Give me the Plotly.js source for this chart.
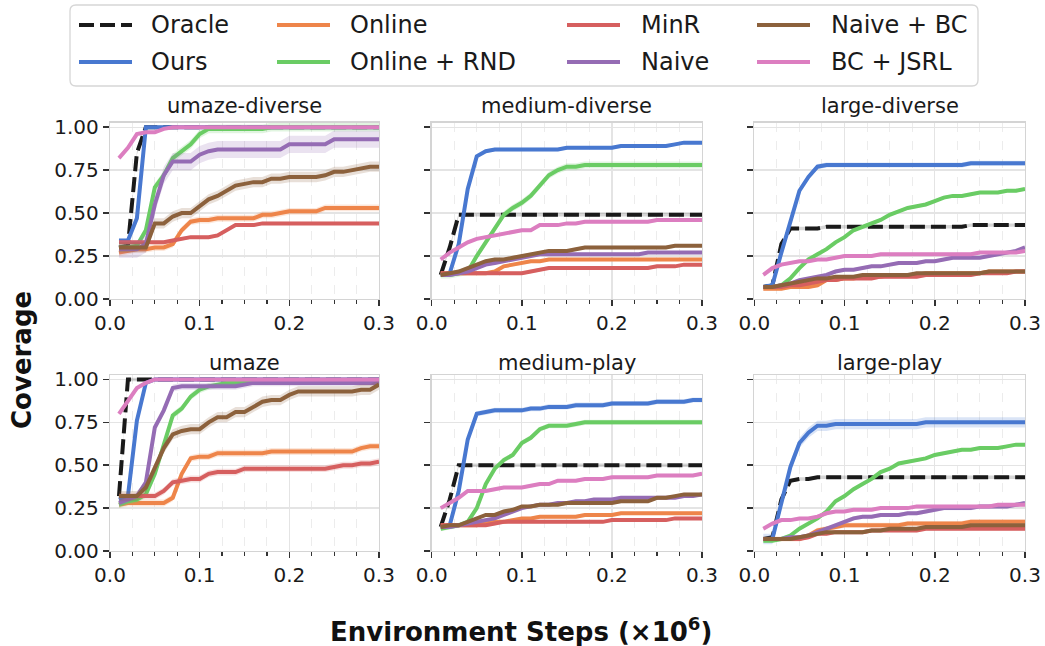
<!DOCTYPE html>
<html>
<head>
<meta charset="utf-8">
<script src="https://cdn.plot.ly/plotly-3.0.1.min.js"></script>
<style>html,body{margin:0;padding:0;background:#fff;}#chart{width:1045px;height:646px;}</style>
</head>
<body>
<div id="chart"></div>
<script>
// ---------------- DATA ----------------
const STEPS = [0.01,0.02,0.03,0.04,0.05,0.06,0.07,0.08,0.09,0.10,0.11,0.12,0.13,0.14,0.15,0.16,0.17,0.18,0.19,0.20,0.21,0.22,0.23,0.24,0.25,0.26,0.27,0.28,0.29,0.30];
const METHODS = ["Oracle","Ours","Online","Online + RND","MinR","Naive","Naive + BC","BC + JSRL"];
const COLORS = ["#1a1a1a","#4878d0","#ee854a","#6acc64","#d65f5f","#956cb4","#8c613c","#dc7ec0"];
const PANEL_TITLES = ["umaze-diverse","medium-diverse","large-diverse","umaze","medium-play","large-play"];
const X_TICKS = [0,0.1,0.2,0.3];
const X_TICK_LABELS = ["0.0","0.1","0.2","0.3"];
const Y_TICKS = [0,0.25,0.5,0.75,1];
const Y_TICK_LABELS = ["0.00","0.25","0.50","0.75","1.00"];

// umaze-diverse
const UD_ORACLE = [0.30,0.31,0.85,1,1,1,1,1,1,1,1,1,1,1,1,1,1,1,1,1,1,1,1,1,1,1,1,1,1,1];
const UD_OURS   = [0.34,0.34,0.47,1,1,1,1,1,1,1,1,1,1,1,1,1,1,1,1,1,1,1,1,1,1,1,1,1,1,1];
const UD_ONLINE = [0.27,0.28,0.29,0.29,0.30,0.30,0.32,0.40,0.45,0.46,0.46,0.47,0.47,0.47,0.47,0.47,0.49,0.49,0.50,0.51,0.51,0.51,0.51,0.53,0.53,0.53,0.53,0.53,0.53,0.53];
const UD_RND    = [0.30,0.30,0.31,0.40,0.65,0.72,0.82,0.86,0.90,0.96,0.99,0.99,0.99,0.99,0.99,0.99,0.99,1,1,1,1,1,1,1,1,1,1,1,1,1];
const UD_MINR   = [0.33,0.33,0.33,0.33,0.33,0.33,0.34,0.35,0.36,0.36,0.36,0.37,0.40,0.43,0.43,0.43,0.44,0.44,0.44,0.44,0.44,0.44,0.44,0.44,0.44,0.44,0.44,0.44,0.44,0.44];
const UD_NAIVE  = [0.29,0.29,0.29,0.32,0.55,0.72,0.80,0.80,0.80,0.84,0.86,0.87,0.87,0.87,0.87,0.87,0.87,0.87,0.87,0.90,0.90,0.90,0.90,0.90,0.93,0.93,0.93,0.93,0.93,0.93];
const UD_NAIVEBC= [0.30,0.30,0.30,0.30,0.44,0.44,0.48,0.50,0.50,0.54,0.58,0.60,0.63,0.66,0.67,0.68,0.68,0.70,0.70,0.71,0.71,0.71,0.71,0.72,0.74,0.74,0.75,0.76,0.77,0.77];
const UD_JSRL   = [0.82,0.88,0.96,0.97,0.97,0.99,1,1,1,1,1,1,1,1,1,1,1,1,1,1,1,1,1,1,1,1,1,1,1,1];
const UD_STD    = [0.01,0.01,0.02,0.025,0.01,0.05,0.03,0.01];

// medium-diverse
const MD_ORACLE = [0.14,0.30,0.49,0.49,0.49,0.49,0.49,0.49,0.49,0.49,0.49,0.49,0.49,0.49,0.49,0.49,0.49,0.49,0.49,0.49,0.49,0.49,0.49,0.49,0.49,0.49,0.49,0.49,0.49,0.49];
const MD_OURS   = [0.14,0.15,0.32,0.64,0.83,0.86,0.87,0.87,0.87,0.87,0.87,0.87,0.87,0.87,0.88,0.88,0.88,0.88,0.88,0.88,0.89,0.89,0.89,0.89,0.89,0.89,0.90,0.91,0.91,0.91];
const MD_ONLINE = [0.15,0.15,0.15,0.15,0.15,0.15,0.16,0.19,0.20,0.21,0.22,0.22,0.23,0.23,0.23,0.23,0.23,0.23,0.23,0.23,0.23,0.23,0.23,0.23,0.23,0.23,0.23,0.23,0.23,0.23];
const MD_RND    = [0.14,0.14,0.15,0.16,0.25,0.33,0.41,0.49,0.53,0.56,0.60,0.66,0.72,0.75,0.77,0.77,0.78,0.78,0.78,0.78,0.78,0.78,0.78,0.78,0.78,0.78,0.78,0.78,0.78,0.78];
const MD_MINR   = [0.15,0.15,0.15,0.15,0.15,0.15,0.15,0.15,0.15,0.15,0.16,0.17,0.18,0.18,0.18,0.18,0.18,0.18,0.18,0.18,0.18,0.18,0.18,0.18,0.19,0.19,0.19,0.20,0.20,0.20];
const MD_NAIVE  = [0.14,0.14,0.15,0.16,0.18,0.20,0.21,0.22,0.23,0.24,0.25,0.26,0.26,0.26,0.26,0.26,0.26,0.26,0.26,0.26,0.26,0.26,0.26,0.27,0.27,0.27,0.27,0.27,0.27,0.27];
const MD_NAIVEBC= [0.14,0.15,0.16,0.18,0.20,0.22,0.23,0.23,0.24,0.25,0.26,0.27,0.28,0.28,0.28,0.29,0.30,0.30,0.30,0.30,0.30,0.30,0.30,0.30,0.30,0.30,0.31,0.31,0.31,0.31];
const MD_JSRL   = [0.23,0.27,0.30,0.33,0.35,0.36,0.37,0.38,0.39,0.40,0.40,0.43,0.43,0.43,0.44,0.44,0.45,0.45,0.45,0.45,0.45,0.45,0.45,0.45,0.46,0.46,0.46,0.46,0.46,0.46];
const MD_STD    = [0.01,0.01,0.01,0.02,0.01,0.01,0.01,0.01];

// large-diverse
const LD_ORACLE = [0.07,0.08,0.32,0.41,0.41,0.41,0.41,0.42,0.42,0.42,0.42,0.42,0.42,0.42,0.42,0.42,0.42,0.42,0.42,0.42,0.42,0.42,0.42,0.43,0.43,0.43,0.43,0.43,0.43,0.43];
const LD_OURS   = [0.07,0.08,0.27,0.44,0.63,0.71,0.77,0.78,0.78,0.78,0.78,0.78,0.78,0.78,0.78,0.78,0.78,0.78,0.78,0.78,0.78,0.78,0.78,0.79,0.79,0.79,0.79,0.79,0.79,0.79];
const LD_ONLINE = [0.06,0.06,0.06,0.07,0.07,0.07,0.08,0.11,0.11,0.12,0.12,0.13,0.13,0.13,0.14,0.14,0.14,0.14,0.15,0.15,0.15,0.15,0.15,0.15,0.15,0.16,0.16,0.16,0.16,0.16];
const LD_RND    = [0.07,0.07,0.08,0.12,0.18,0.23,0.26,0.29,0.33,0.36,0.40,0.42,0.44,0.46,0.49,0.51,0.53,0.54,0.55,0.57,0.59,0.60,0.60,0.61,0.62,0.62,0.62,0.63,0.63,0.64];
const LD_MINR   = [0.07,0.07,0.07,0.08,0.08,0.09,0.10,0.11,0.11,0.12,0.12,0.12,0.12,0.13,0.13,0.13,0.13,0.13,0.14,0.14,0.14,0.14,0.14,0.14,0.15,0.15,0.15,0.15,0.16,0.16];
const LD_NAIVE  = [0.07,0.07,0.08,0.09,0.11,0.12,0.13,0.14,0.16,0.17,0.17,0.18,0.19,0.19,0.20,0.21,0.21,0.21,0.22,0.22,0.23,0.24,0.24,0.24,0.24,0.25,0.26,0.27,0.28,0.30];
const LD_NAIVEBC= [0.07,0.07,0.08,0.09,0.10,0.11,0.12,0.12,0.13,0.13,0.13,0.14,0.14,0.14,0.14,0.14,0.14,0.15,0.15,0.15,0.15,0.15,0.15,0.15,0.15,0.16,0.16,0.16,0.16,0.16];
const LD_JSRL   = [0.14,0.18,0.20,0.21,0.22,0.22,0.23,0.23,0.24,0.25,0.25,0.25,0.25,0.26,0.26,0.26,0.26,0.26,0.26,0.26,0.26,0.26,0.26,0.26,0.27,0.27,0.27,0.27,0.27,0.28];
const LD_STD    = [0.01,0.015,0.01,0.01,0.01,0.01,0.01,0.01];

// umaze
const U_ORACLE  = [0.32,1,1,1,1,1,1,1,1,1,1,1,1,1,1,1,1,1,1,1,1,1,1,1,1,1,1,1,1,1];
const U_OURS    = [0.30,0.32,0.76,0.98,1,1,1,1,1,1,1,1,1,1,1,1,1,1,1,1,1,1,1,1,1,1,1,1,1,1];
const U_ONLINE  = [0.27,0.28,0.28,0.28,0.28,0.28,0.31,0.45,0.54,0.55,0.55,0.57,0.57,0.57,0.57,0.57,0.57,0.58,0.58,0.58,0.58,0.58,0.58,0.58,0.58,0.58,0.58,0.60,0.61,0.61];
const U_RND     = [0.27,0.29,0.30,0.33,0.45,0.62,0.79,0.83,0.90,0.94,0.96,0.97,0.98,0.98,0.99,0.99,0.99,0.99,0.99,0.99,0.99,0.99,0.99,0.99,0.99,0.99,0.99,0.99,0.99,0.99];
const U_MINR    = [0.32,0.32,0.32,0.32,0.32,0.35,0.40,0.41,0.42,0.42,0.45,0.46,0.46,0.46,0.48,0.48,0.48,0.48,0.48,0.48,0.48,0.48,0.48,0.48,0.49,0.50,0.50,0.51,0.51,0.52];
const U_NAIVE   = [0.28,0.30,0.32,0.40,0.72,0.82,0.95,0.96,0.96,0.96,0.96,0.96,0.96,0.96,0.97,0.98,0.98,0.98,0.98,0.98,0.98,0.98,0.98,0.98,0.98,0.98,0.98,0.98,0.98,0.98];
const U_NAIVEBC = [0.32,0.32,0.32,0.37,0.48,0.60,0.68,0.70,0.71,0.71,0.75,0.78,0.78,0.81,0.81,0.84,0.87,0.88,0.88,0.91,0.93,0.93,0.93,0.93,0.93,0.93,0.93,0.94,0.94,0.97];
const U_JSRL    = [0.80,0.88,0.95,0.98,1,1,1,1,1,1,1,1,1,1,1,1,1,1,1,1,1,1,1,1,1,1,1,1,1,1];
const U_STD     = [0.01,0.01,0.02,0.02,0.02,0.02,0.03,0.01];

// medium-play
const MP_ORACLE = [0.14,0.30,0.50,0.50,0.50,0.50,0.50,0.50,0.50,0.50,0.50,0.50,0.50,0.50,0.50,0.50,0.50,0.50,0.50,0.50,0.50,0.50,0.50,0.50,0.50,0.50,0.50,0.50,0.50,0.50];
const MP_OURS   = [0.14,0.15,0.35,0.65,0.80,0.81,0.82,0.82,0.82,0.82,0.83,0.83,0.84,0.84,0.84,0.85,0.85,0.85,0.85,0.86,0.86,0.86,0.86,0.86,0.87,0.87,0.87,0.87,0.88,0.88];
const MP_ONLINE = [0.15,0.15,0.15,0.15,0.15,0.16,0.17,0.17,0.18,0.19,0.19,0.20,0.20,0.20,0.20,0.20,0.21,0.21,0.21,0.21,0.22,0.22,0.22,0.22,0.22,0.22,0.22,0.22,0.22,0.22];
const MP_RND    = [0.13,0.14,0.15,0.17,0.25,0.39,0.48,0.53,0.56,0.63,0.66,0.71,0.73,0.73,0.73,0.74,0.75,0.75,0.75,0.75,0.75,0.75,0.75,0.75,0.75,0.75,0.75,0.75,0.75,0.75];
const MP_MINR   = [0.15,0.15,0.15,0.15,0.15,0.15,0.16,0.17,0.17,0.17,0.17,0.17,0.17,0.17,0.17,0.17,0.17,0.17,0.17,0.18,0.18,0.18,0.18,0.18,0.18,0.18,0.19,0.19,0.19,0.19];
const MP_NAIVE  = [0.14,0.14,0.15,0.16,0.17,0.18,0.19,0.21,0.23,0.25,0.26,0.27,0.27,0.28,0.28,0.29,0.29,0.30,0.30,0.30,0.31,0.31,0.31,0.31,0.31,0.31,0.31,0.32,0.32,0.33];
const MP_NAIVEBC= [0.14,0.15,0.15,0.17,0.19,0.21,0.21,0.23,0.24,0.26,0.26,0.27,0.27,0.27,0.28,0.28,0.28,0.28,0.28,0.28,0.29,0.29,0.29,0.29,0.31,0.31,0.32,0.33,0.33,0.33];
const MP_JSRL   = [0.25,0.28,0.31,0.35,0.35,0.35,0.36,0.37,0.37,0.37,0.38,0.39,0.39,0.41,0.41,0.41,0.42,0.42,0.42,0.43,0.43,0.43,0.43,0.43,0.44,0.44,0.44,0.44,0.44,0.45];
const MP_STD    = [0.01,0.015,0.01,0.015,0.01,0.01,0.01,0.01];

// large-play
const LP_ORACLE = [0.07,0.08,0.30,0.41,0.42,0.42,0.43,0.43,0.43,0.43,0.43,0.43,0.43,0.43,0.43,0.43,0.43,0.43,0.43,0.43,0.43,0.43,0.43,0.43,0.43,0.43,0.43,0.43,0.43,0.43];
const LP_OURS   = [0.07,0.07,0.28,0.49,0.63,0.69,0.73,0.73,0.74,0.74,0.74,0.74,0.74,0.74,0.74,0.74,0.74,0.74,0.75,0.75,0.75,0.75,0.75,0.75,0.75,0.75,0.75,0.75,0.75,0.75];
const LP_ONLINE = [0.07,0.07,0.07,0.07,0.07,0.09,0.12,0.13,0.14,0.15,0.15,0.15,0.15,0.15,0.15,0.15,0.16,0.16,0.16,0.16,0.16,0.16,0.16,0.17,0.17,0.17,0.17,0.17,0.17,0.17];
const LP_RND    = [0.06,0.06,0.07,0.09,0.13,0.16,0.19,0.23,0.29,0.32,0.36,0.39,0.42,0.46,0.48,0.51,0.52,0.53,0.54,0.56,0.57,0.58,0.59,0.59,0.60,0.60,0.60,0.61,0.62,0.62];
const LP_MINR   = [0.07,0.07,0.07,0.07,0.07,0.08,0.10,0.10,0.11,0.11,0.11,0.11,0.12,0.12,0.12,0.12,0.12,0.12,0.13,0.13,0.13,0.13,0.13,0.13,0.13,0.13,0.13,0.13,0.13,0.13];
const LP_NAIVE  = [0.07,0.07,0.07,0.08,0.08,0.09,0.11,0.13,0.15,0.17,0.19,0.20,0.20,0.21,0.21,0.21,0.22,0.22,0.23,0.24,0.25,0.25,0.25,0.25,0.26,0.26,0.26,0.26,0.27,0.28];
const LP_NAIVEBC= [0.07,0.07,0.07,0.07,0.08,0.09,0.10,0.11,0.11,0.11,0.11,0.11,0.12,0.12,0.13,0.13,0.13,0.13,0.14,0.14,0.14,0.14,0.14,0.15,0.15,0.15,0.15,0.15,0.15,0.15];
const LP_JSRL   = [0.13,0.16,0.18,0.18,0.19,0.19,0.20,0.22,0.23,0.23,0.24,0.24,0.24,0.25,0.25,0.25,0.25,0.26,0.26,0.26,0.26,0.26,0.26,0.26,0.26,0.26,0.27,0.27,0.27,0.27];
const LP_STD    = [0.01,0.03,0.015,0.01,0.01,0.012,0.01,0.01];

const PANELS = [
  {series:[UD_ORACLE,UD_OURS,UD_ONLINE,UD_RND,UD_MINR,UD_NAIVE,UD_NAIVEBC,UD_JSRL], std:UD_STD},
  {series:[MD_ORACLE,MD_OURS,MD_ONLINE,MD_RND,MD_MINR,MD_NAIVE,MD_NAIVEBC,MD_JSRL], std:MD_STD},
  {series:[LD_ORACLE,LD_OURS,LD_ONLINE,LD_RND,LD_MINR,LD_NAIVE,LD_NAIVEBC,LD_JSRL], std:LD_STD},
  {series:[U_ORACLE,U_OURS,U_ONLINE,U_RND,U_MINR,U_NAIVE,U_NAIVEBC,U_JSRL], std:U_STD},
  {series:[MP_ORACLE,MP_OURS,MP_ONLINE,MP_RND,MP_MINR,MP_NAIVE,MP_NAIVEBC,MP_JSRL], std:MP_STD},
  {series:[LP_ORACLE,LP_OURS,LP_ONLINE,LP_RND,LP_MINR,LP_NAIVE,LP_NAIVEBC,LP_JSRL], std:LP_STD}
];

// ---------------- LAYOUT ----------------
const W = 1045, H = 646;
const PX = p => p / W;
const PY = p => 1 - p / H;
const COL_PX = [[110,379],[431.7,702],[754.3,1025]];
const ROW_PX = [[122.7,299],[375,551]];
const FONT = "DejaVu Sans";

function rgba(hex, a) {
  const r = parseInt(hex.slice(1,3),16), g = parseInt(hex.slice(3,5),16), b = parseInt(hex.slice(5,7),16);
  return `rgba(${r},${g},${b},${a})`;
}

const traces = [];
const layout = {
  width: W, height: H,
  margin: {l:0, r:0, t:0, b:0},
  paper_bgcolor: "#ffffff", plot_bgcolor: "#ffffff",
  showlegend: false,
  font: {family: FONT, size: 20, color: "#1a1a1a"},
  annotations: [], shapes: []
};

PANELS.forEach((panel, i) => {
  const n = i + 1;
  const row = Math.floor(i / 3), col = i % 3;
  const xa = "x" + (n === 1 ? "" : n), ya = "y" + (n === 1 ? "" : n);
  const xkey = "xaxis" + (n === 1 ? "" : n), ykey = "yaxis" + (n === 1 ? "" : n);
  layout[xkey] = {
    domain: [PX(COL_PX[col][0]), PX(COL_PX[col][1])],
    range: [0, 0.3], anchor: ya,
    tickmode: "array", tickvals: X_TICKS, ticktext: X_TICK_LABELS,
    ticks: "outside", ticklen: 6, tickwidth: 1.5, tickcolor: "#333",
    showline: true, mirror: true, linecolor: "#d4d4d4", linewidth: 1.3,
    showgrid: true, gridcolor: "#e4e4e4", gridwidth: 1.3, zeroline: false,
    tickfont: {family: FONT, size: 20, color: "#1a1a1a"},
    minor: {tickmode: "linear", tick0: 0, dtick: 0.025, ticks: "outside", ticklen: 4, tickwidth: 1.2,
            tickcolor: "#333", showgrid: true, gridcolor: "#ececec", griddash: "dash", gridwidth: 1},
    fixedrange: true
  };
  layout[ykey] = {
    domain: [PY(ROW_PX[row][1]), PY(ROW_PX[row][0])],
    range: [0, 1.026], anchor: xa,
    tickmode: "array", tickvals: Y_TICKS, ticktext: Y_TICK_LABELS,
    showticklabels: col === 0,
    ticks: "outside", ticklen: 6, tickwidth: 1.5, tickcolor: "#333",
    showline: true, mirror: true, linecolor: "#d4d4d4", linewidth: 1.3,
    showgrid: true, gridcolor: "#e4e4e4", gridwidth: 1.3, zeroline: false,
    tickfont: {family: FONT, size: 20, color: "#1a1a1a"},
    fixedrange: true
  };
  panel.series.forEach((vals, k) => {
    const s = panel.std[k];
    const upper = vals.map(v => v + s);
    const lower = vals.map(v => v - s);
    traces.push({
      x: STEPS.concat(STEPS.slice().reverse()),
      y: upper.concat(lower.slice().reverse()),
      xaxis: xa, yaxis: ya, mode: "lines", fill: "toself",
      fillcolor: rgba(COLORS[k], k === 0 ? 0.18 : 0.2),
      line: {width: 0}, hoverinfo: "skip", showlegend: false
    });
    traces.push({
      x: STEPS, y: vals, xaxis: xa, yaxis: ya, mode: "lines", name: METHODS[k],
      line: {color: COLORS[k], width: 4, dash: k === 0 ? "15px,6px" : "solid"},
      showlegend: false
    });
  });
  layout.annotations.push({
    text: PANEL_TITLES[i], xref: "paper", yref: "paper",
    x: PX((COL_PX[col][0] + COL_PX[col][1]) / 2), y: PY(row === 0 ? 106 : 363),
    xanchor: "center", yanchor: "middle", showarrow: false,
    font: {family: FONT, size: 21, color: "#1a1a1a"}
  });
});

// axis labels
layout.annotations.push({
  text: "<b>Coverage</b>", xref: "paper", yref: "paper", x: PX(22), y: PY(360),
  xanchor: "center", yanchor: "middle", textangle: -90, showarrow: false,
  font: {family: FONT, size: 26, color: "#111"}
});
layout.annotations.push({
  text: "<b>Environment Steps (×10<sup>6</sup>)</b>", xref: "paper", yref: "paper", x: PX(521), y: PY(630),
  xanchor: "center", yanchor: "middle", showarrow: false,
  font: {family: FONT, size: 26, color: "#111"}
});

// legend (manual, 4 columns, column-major order)
const LEG_BOX = {x0: 70, x1: 978, y0: 5, y1: 86, r: 6};
const LEG_LINE_X = [79, 277, 567, 757];
const LEG_TEXT_X = [149, 348, 639, 829];
const LEG_ROW_Y = [25, 62];
const LEG_LINE_LEN = 53;
(function () {
  const b = LEG_BOX, r = b.r;
  const p = (x, y) => `${PX(x)},${PY(y)}`;
  const path = `M ${p(b.x0 + r, b.y0)} L ${p(b.x1 - r, b.y0)} Q ${p(b.x1, b.y0)} ${p(b.x1, b.y0 + r)} ` +
    `L ${p(b.x1, b.y1 - r)} Q ${p(b.x1, b.y1)} ${p(b.x1 - r, b.y1)} L ${p(b.x0 + r, b.y1)} ` +
    `Q ${p(b.x0, b.y1)} ${p(b.x0, b.y1 - r)} L ${p(b.x0, b.y0 + r)} Q ${p(b.x0, b.y0)} ${p(b.x0 + r, b.y0)} Z`;
  layout.shapes.push({type: "path", path: path, xref: "paper", yref: "paper",
    line: {color: "#d6d6d6", width: 1.3}, fillcolor: "rgba(255,255,255,0.9)", layer: "above"});
  METHODS.forEach((name, k) => {
    const col = Math.floor(k / 2), row = k % 2;
    const y = LEG_ROW_Y[row];
    layout.shapes.push({type: "line", xref: "paper", yref: "paper",
      x0: PX(LEG_LINE_X[col]), x1: PX(LEG_LINE_X[col] + LEG_LINE_LEN), y0: PY(y), y1: PY(y),
      line: {color: COLORS[k], width: 4, dash: k === 0 ? "15px,6px" : "solid"}, layer: "above"});
    layout.annotations.push({text: name, xref: "paper", yref: "paper",
      x: PX(LEG_TEXT_X[col]), y: PY(y), xanchor: "left", yanchor: "middle", showarrow: false,
      font: {family: FONT, size: 24, color: "#1a1a1a"}});
  });
})();

Plotly.newPlot("chart", traces, layout, {displayModeBar: false, staticPlot: true});
</script>
</body>
</html>
